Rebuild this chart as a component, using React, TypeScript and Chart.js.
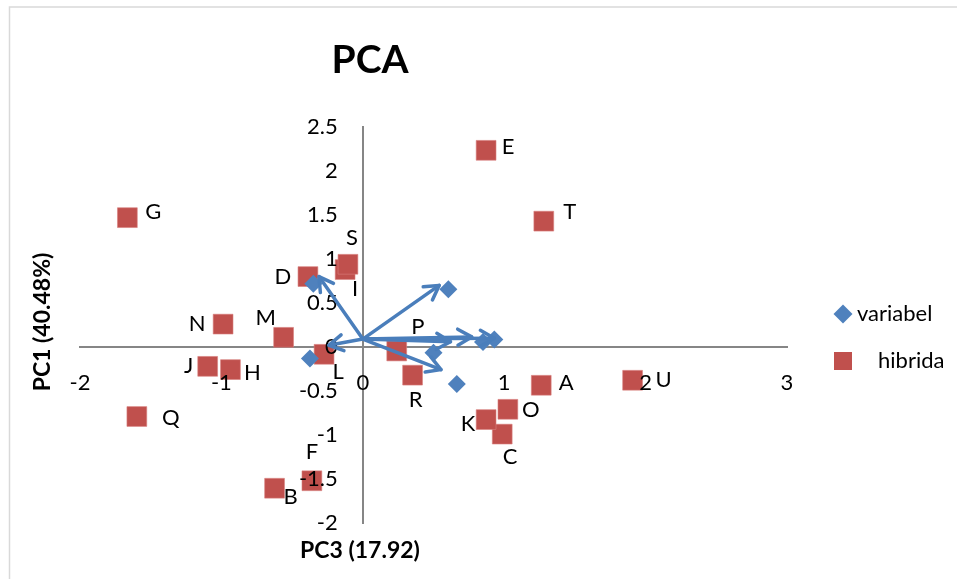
import React, { useEffect, useRef } from 'react';
import { Chart, registerables } from 'chart.js';

Chart.register(...registerables);

// ---- data ----
const chartTitle = 'PCA';
const xAxisTitle = 'PC3 (17.92)';
const yAxisTitle = 'PC1 (40.48%)';
const seriesNames = ['variabel', 'hibrida'];

const xMin = -2;
const xMax = 3;
const xStep = 1;
const yMin = -2;
const yMax = 2.5;
const yStep = 0.5;

const hibridaLabels = ['A', 'B', 'C', 'D', 'E', 'F', 'G', 'H', 'I', 'J', 'K', 'L', 'M', 'N', 'O', 'P', 'Q', 'R', 'S', 'T', 'U'];
const hibridaX = [1.262, -0.624, 0.986, -0.388, 0.872, -0.36, -1.665, -0.936, -0.125, -1.097, 0.872, -0.274, -0.56, -0.988, 1.026, 0.24, -1.598, 0.352, -0.105, 1.28, 1.908];
const hibridaY = [-0.435, -1.605, -0.99, 0.8, 2.235, -1.52, 1.47, -0.257, 0.88, -0.22, -0.825, -0.083, 0.11, 0.26, -0.708, -0.045, -0.79, -0.32, 0.94, 1.43, -0.378];

const variabelX = [0.605, 0.93, 0.85, 0.5, 0.665, -0.35, -0.374];
const variabelY = [0.655, 0.084, 0.057, -0.064, -0.42, 0.72, -0.13];

const arrowOriginX = 0;
const arrowOriginY = 0.09;
const arrowTipX = [-0.31, 0.54, 0.77, 0.93, 0.62, 0.553, -0.24];
const arrowTipY = [0.8, 0.7, 0.115, 0.1, 0.06, -0.257, 0.02];

// ---- label placement (style only) ----
const labelOffsets: Record<string, [number, number]> = {
  A: [25, -2], B: [16, 9], C: [8, 23], D: [-25, 0], E: [22, -3], F: [0, -29], G: [26, -6],
  H: [22, 3], I: [10, 19], J: [-19, 0], K: [-18, 4], L: [14, 18], M: [-18, -19], N: [-26, 0],
  O: [23, 1], P: [21, -24], Q: [34, 1], R: [3, 25], S: [4, -26], T: [26, -9], U: [31, 0],
};

const FONT = 'Lato, "Noto Sans", sans-serif';
const BLUE = '#4F81BD';
const ARROW = '#4A7EBB';
const RED = '#C0504D';

const decorPlugin = {
  id: 'decor',
  beforeDraw(chart: any) {
    const ctx = chart.ctx;
    ctx.save();
    ctx.fillStyle = '#ffffff';
    ctx.fillRect(0, 0, chart.width, chart.height);
    ctx.strokeStyle = '#D9D9D9';
    ctx.lineWidth = 1.5;
    ctx.strokeRect(9.5, 7, chart.width + 50, chart.height + 50);
    ctx.restore();
  },
  afterDatasetsDraw(chart: any) {
    const ctx = chart.ctx;
    const xs = chart.scales.x;
    const ys = chart.scales.y;
    const axisX = xs.getPixelForValue(0);
    const axisY = ys.getPixelForValue(0);
    ctx.save();
    // tick labels from the library's own scale ticks, drawn over the marks
    ctx.fillStyle = '#000000';
    ctx.font = `22px ${FONT}`;
    ctx.textBaseline = 'middle';
    ctx.textAlign = 'right';
    ys.ticks.forEach((t: any) => {
      ctx.fillText(`${t.value}`, axisX - 25, ys.getPixelForValue(t.value));
    });
    ctx.textAlign = 'center';
    xs.ticks.forEach((t: any) => {
      ctx.fillText(`${t.value}`, xs.getPixelForValue(t.value), axisY + 36);
    });
    // arrows
    ctx.strokeStyle = ARROW;
    ctx.lineWidth = 3.5;
    ctx.lineCap = 'round';
    ctx.lineJoin = 'round';
    const ox = xs.getPixelForValue(arrowOriginX);
    const oy = ys.getPixelForValue(arrowOriginY);
    for (let i = 0; i < arrowTipX.length; i++) {
      const tx = xs.getPixelForValue(arrowTipX[i]);
      const ty = ys.getPixelForValue(arrowTipY[i]);
      ctx.beginPath();
      ctx.moveTo(ox, oy);
      ctx.lineTo(tx, ty);
      ctx.stroke();
      const ang = Math.atan2(ty - oy, tx - ox);
      const len = 16;
      const spread = Math.PI / 6;
      ctx.beginPath();
      ctx.moveTo(tx - len * Math.cos(ang - spread), ty - len * Math.sin(ang - spread));
      ctx.lineTo(tx, ty);
      ctx.lineTo(tx - len * Math.cos(ang + spread), ty - len * Math.sin(ang + spread));
      ctx.stroke();
    }
    // point labels
    const meta = chart.getDatasetMeta(1);
    ctx.fillStyle = '#000000';
    ctx.font = `22px ${FONT}`;
    ctx.textAlign = 'center';
    ctx.textBaseline = 'middle';
    meta.data.forEach((el: any, i: number) => {
      const lab = hibridaLabels[i];
      const off = labelOffsets[lab] || [20, 0];
      ctx.fillText(lab, el.x + off[0], el.y + off[1]);
    });
    ctx.restore();
  },
  afterDraw(chart: any) {
    const ctx = chart.ctx;
    ctx.save();
    ctx.fillStyle = '#000000';
    ctx.textAlign = 'center';
    ctx.textBaseline = 'middle';
    // title
    ctx.font = `bold 39px ${FONT}`;
    ctx.fillText(chartTitle, 370, 60);
    // x axis title
    ctx.font = `bold 23px ${FONT}`;
    ctx.fillText(xAxisTitle, 360, 551);
    // y axis title
    ctx.save();
    ctx.translate(43, 322);
    ctx.rotate(-Math.PI / 2);
    ctx.fillText(yAxisTitle, 0, 0);
    ctx.restore();
    // legend
    ctx.fillStyle = BLUE;
    ctx.beginPath();
    ctx.moveTo(843, 304.5);
    ctx.lineTo(852.5, 314);
    ctx.lineTo(843, 323.5);
    ctx.lineTo(833.5, 314);
    ctx.closePath();
    ctx.fill();
    ctx.fillStyle = RED;
    ctx.fillRect(834, 352, 18, 18);
    ctx.fillStyle = '#000000';
    ctx.textAlign = 'left';
    ctx.font = `22px ${FONT}`;
    ctx.fillText(seriesNames[0], 857, 314);
    ctx.fillText(seriesNames[1], 878, 361);
    ctx.restore();
  },
};

export default function App() {
  const ref = useRef<HTMLCanvasElement | null>(null);
  useEffect(() => {
    if (!ref.current) return;
    const chart = new Chart(ref.current, {
      type: 'scatter',
      data: {
        datasets: [
          {
            label: seriesNames[0],
            data: variabelX.map((x, i) => ({ x, y: variabelY[i] })),
            pointStyle: 'rectRot',
            pointRadius: 9,
            backgroundColor: BLUE,
            borderColor: BLUE,
            borderWidth: 0,
          },
          {
            label: seriesNames[1],
            data: hibridaX.map((x, i) => ({ x, y: hibridaY[i] })),
            pointStyle: 'rect',
            pointRadius: 14,
            backgroundColor: RED,
            borderColor: '#D9807E',
            borderWidth: 0.6,
          },
        ],
      },
      options: {
        animation: false,
        responsive: false,
        events: [],
        layout: { padding: { left: 80, right: 170, top: 127, bottom: 56 } },
        plugins: {
          legend: { display: false },
          title: { display: false },
          tooltip: { enabled: false },
        },
        scales: {
          x: {
            type: 'linear',
            min: xMin,
            max: xMax,
            position: { y: 0 } as any,
            grid: { display: false, drawTicks: false },
            border: { display: true, color: '#868686', width: 2 },
            ticks: {
              stepSize: xStep,
              padding: 24,
              color: 'rgba(0,0,0,0)',
              font: { family: FONT, size: 22 },
              callback: (v: any) => `${v}`,
            },
          },
          y: {
            type: 'linear',
            min: yMin,
            max: yMax,
            position: { x: 0 } as any,
            grid: { display: false, drawTicks: false },
            border: { display: true, color: '#868686', width: 2 },
            ticks: {
              stepSize: yStep,
              color: 'rgba(0,0,0,0)',
              font: { family: FONT, size: 22 },
              callback: (v: any) => `${v}`,
            },
          },
        },
      },
      plugins: [decorPlugin],
    });
    return () => chart.destroy();
  }, []);
  return (
    <div style={{ position: 'fixed', left: 0, top: 0, width: 957, height: 579, background: '#fff' }}>
      <canvas ref={ref} width={957} height={579} style={{ display: 'block' }} />
    </div>
  );
}
